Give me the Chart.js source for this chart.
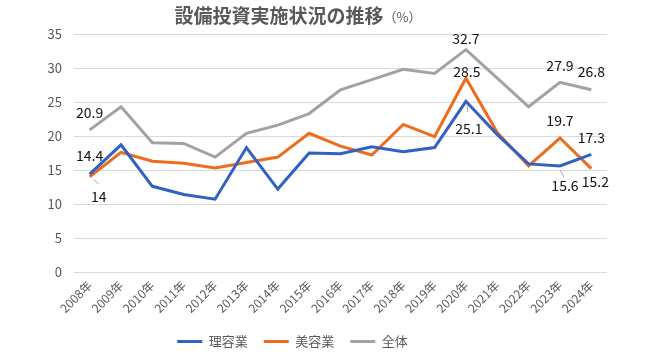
<!DOCTYPE html>
<html>
<head>
<meta charset="utf-8">
<script src="https://cdn.jsdelivr.net/npm/chart.js@4"></script>
<style>
  html, body { margin: 0; padding: 0; background: #fff; }
  #wrap { width: 650px; height: 355px; position: relative; }
</style>
</head>
<body>
<div id="wrap"><canvas id="c" width="650" height="355"></canvas></div>
<script>
// ---- data ----
const years = ["2008年","2009年","2010年","2011年","2012年","2013年","2014年","2015年","2016年","2017年","2018年","2019年","2020年","2021年","2022年","2023年","2024年"];
const seriesNames = ["理容業", "美容業", "全体"];
const barberValues = [14.4, 18.7, 12.6, 11.4, 10.7, 18.3, 12.2, 17.5, 17.4, 18.4, 17.7, 18.3, 25.1, 20.2, 15.9, 15.6, 17.3];
const beautyValues = [14.0, 17.6, 16.3, 16.0, 15.3, 16.1, 16.9, 20.4, 18.5, 17.2, 21.7, 19.9, 28.5, 20.5, 15.6, 19.7, 15.2];
const totalValues  = [20.9, 24.3, 19.0, 18.9, 16.9, 20.4, 21.6, 23.3, 26.8, 28.3, 29.8, 29.2, 32.7, 28.5, 24.3, 27.9, 26.8];
const yTicks = [0, 5, 10, 15, 20, 25, 30, 35];
const titleMain = "設備投資実施状況の推移";
const titleUnit = "（%）";

// ---- styling / label placement (not data) ----
const colors = ["#2F62C2", "#EE6C1E", "#A2A2A2"];
const FONT = "'Noto Sans CJK JP', 'Noto Sans', sans-serif";
// [datasetIndex, pointIndex, dx, dy, leader]
const labelSpecs = [
  [2, 0, 0, -17, null],
  [0, 0, 0, -18, null],
  [1, 0, 9, 20, [4, 3, 9, 7]],
  [2, 12, 0, -11, null],
  [1, 12, 1, -7, null],
  [0, 12, 3, 27, [1, 3, 2, 11]],
  [2, 15, 0, -17, null],
  [2, 16, 0, -18, null],
  [1, 15, 0, -17, null],
  [0, 16, 0, -17, null],
  [0, 15, 5, 20, [0, 4, 4, 11]],
  [1, 16, 4, 13, null]
];

const dataLabelPlugin = {
  id: 'dataLabels',
  afterDatasetsDraw(chart) {
    const ctx = chart.ctx;
    ctx.save();
    ctx.font = "14px " + FONT;
    ctx.fillStyle = "#111";
    ctx.textAlign = "center";
    ctx.textBaseline = "middle";
    labelSpecs.forEach(([di, pi, dx, dy, leader]) => {
      const pt = chart.getDatasetMeta(di).data[pi];
      const v = chart.data.datasets[di].data[pi];
      if (leader) {
        ctx.save();
        ctx.strokeStyle = "#A6A6A6";
        ctx.lineWidth = 1;
        ctx.beginPath();
        ctx.moveTo(pt.x + leader[0], pt.y + leader[1]);
        ctx.lineTo(pt.x + leader[2], pt.y + leader[3]);
        ctx.stroke();
        ctx.restore();
      }
      ctx.fillText(String(v), pt.x + dx, pt.y + dy);
    });
    ctx.restore();
  }
};

const titlePlugin = {
  id: 'customTitle',
  afterDraw(chart) {
    const ctx = chart.ctx;
    ctx.save();
    ctx.fillStyle = "#595959";
    ctx.textBaseline = "alphabetic";
    ctx.textAlign = "left";
    ctx.font = "bold 19px " + FONT;
    const w1 = ctx.measureText(titleMain).width;
    ctx.font = "13px " + FONT;
    const w2 = ctx.measureText(titleUnit).width;
    const x0 = 298 - (w1 + w2) / 2;
    ctx.font = "bold 19px " + FONT;
    ctx.fillText(titleMain, x0, 23);
    ctx.font = "13px " + FONT;
    ctx.fillText(titleUnit, x0 + w1, 22);
    ctx.restore();
  }
};

const legendShift = {
  id: 'legendShift',
  afterLayout(chart) {
    const lg = chart.legend;
    const dx = -11, dy = 3;
    lg.left += dx; lg.right += dx;
    lg.top += dy; lg.bottom += dy;
  }
};

new Chart(document.getElementById('c'), {
  type: 'line',
  data: {
    labels: years,
    datasets: [
      { label: seriesNames[0], data: barberValues, borderColor: colors[0], backgroundColor: colors[0] },
      { label: seriesNames[1], data: beautyValues, borderColor: colors[1], backgroundColor: colors[1] },
      { label: seriesNames[2], data: totalValues,  borderColor: colors[2], backgroundColor: colors[2] }
    ]
  },
  options: {
    responsive: false,
    animation: false,
    layout: { padding: { top: 34, right: 43, bottom: 0, left: 0 } },
    elements: {
      line: { borderWidth: 3, tension: 0, borderJoinStyle: 'miter' },
      point: { radius: 0, hoverRadius: 0 }
    },
    plugins: {
      title: { display: false },
      tooltip: { enabled: false },
      legend: {
        position: 'bottom',
        labels: {
          boxWidth: 25,
          boxHeight: 3,
          padding: 16,
          color: "#595959",
          font: { family: FONT, size: 13 },
          generateLabels: (chart) => Chart.defaults.plugins.legend.labels.generateLabels(chart).map(l => Object.assign(l, { lineWidth: 0 }))
        }
      }
    },
    scales: {
      x: {
        offset: true,
        grid: { display: false, drawTicks: false },
        border: { display: false },
        ticks: {
          minRotation: 45, maxRotation: 45, autoSkip: false,
          padding: 6,
          color: "#595959",
          font: { family: FONT, size: 12 }
        },
        afterFit(scale) {
          const lh = scale.chart.legend ? scale.chart.legend.height : 0;
          scale.height = 355 - 272 - lh;
        }
      },
      y: {
        min: yTicks[0], max: yTicks[yTicks.length - 1],
        afterBuildTicks(scale) { scale.ticks = yTicks.map(v => ({ value: v })); },
        grid: { color: "#D9D9D9", lineWidth: 1, drawTicks: false },
        border: { display: false },
        ticks: {
          padding: 12,
          color: "#595959",
          font: { family: FONT, size: 13 }
        },
        afterFit(scale) { scale.width = 74; }
      }
    }
  },
  plugins: [dataLabelPlugin, titlePlugin, legendShift]
});
</script>
</body>
</html>
